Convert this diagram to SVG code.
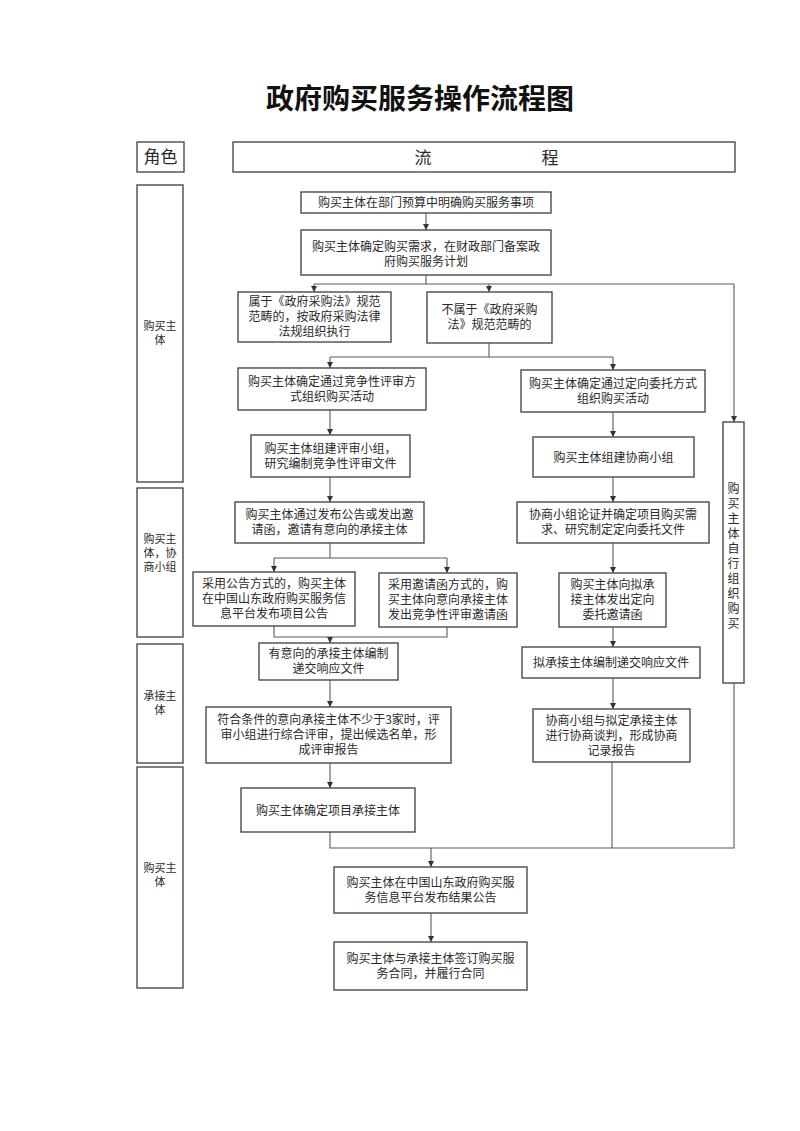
<svg xmlns="http://www.w3.org/2000/svg" width="800" height="1131" viewBox="0 0 800 1131">
<style>
text{font-family:"Noto Sans CJK SC","Noto Sans",sans-serif;fill:#2a2a2a;text-anchor:middle}
.t{font-size:12px}
.s{font-size:11px}
.box{fill:#fff;stroke:#4a4a4a;stroke-width:1.4}
.ln{fill:none;stroke:#5a5a5a;stroke-width:1.1}
.title{font-size:28px;font-weight:700;fill:#111}
.hd{font-size:17px}
</style>
<defs>
<marker id="arr" viewBox="0 0 8 8" refX="8" refY="4" markerWidth="6" markerHeight="6" markerUnits="userSpaceOnUse" orient="auto">
<path d="M0,0 L8,4 L0,8 z" fill="#333"/>
</marker>
</defs>
<rect width="800" height="1131" fill="#fff"/>
<text class="title" x="420" y="109">政府购买服务操作流程图</text>

<g id="header">
<rect class="box" x="137" y="142" width="47" height="30"/>
<text class="hd" x="160.5" y="163">角色</text>
<rect class="box" x="233" y="142" width="502" height="30"/>
<text class="hd" x="423" y="164">流</text>
<text class="hd" x="550" y="164">程</text>
</g>

<g id="roles">
<g id="role1"><rect class="box" x="137" y="185" width="46" height="297"/>
<text class="s" x="160" y="330">购买主</text><text class="s" x="160" y="344">体</text></g>
<g id="role2"><rect class="box" x="137" y="488" width="46" height="149"/>
<text class="s" x="160" y="543">购买主</text><text class="s" x="160" y="557">体，协</text><text class="s" x="160" y="571">商小组</text></g>
<g id="role3"><rect class="box" x="137" y="644" width="46" height="119"/>
<text class="s" x="160" y="700">承接主</text><text class="s" x="160" y="714">体</text></g>
<g id="role4"><rect class="box" x="137" y="767" width="46" height="221"/>
<text class="s" x="160" y="872">购买主</text><text class="s" x="160" y="886">体</text></g>
</g>

<g id="connectors">
<line class="ln" x1="426" y1="213" x2="426" y2="230" marker-end="url(#arr)"/>
<polyline class="ln" points="426,275 426,284"/>
<polyline class="ln" points="314,284 734,284"/>
<line class="ln" x1="314" y1="284" x2="314" y2="292" marker-end="url(#arr)"/>
<line class="ln" x1="489" y1="284" x2="489" y2="292" marker-end="url(#arr)"/>
<line class="ln" x1="734" y1="284" x2="734" y2="422" marker-end="url(#arr)"/>
<polyline class="ln" points="489,343 489,357"/>
<polyline class="ln" points="330,357 613,357"/>
<line class="ln" x1="330" y1="357" x2="330" y2="368" marker-end="url(#arr)"/>
<line class="ln" x1="613" y1="357" x2="613" y2="370" marker-end="url(#arr)"/>
<line class="ln" x1="330" y1="410" x2="330" y2="435" marker-end="url(#arr)"/>
<line class="ln" x1="330" y1="477" x2="330" y2="502" marker-end="url(#arr)"/>
<line class="ln" x1="613" y1="412" x2="613" y2="437" marker-end="url(#arr)"/>
<line class="ln" x1="613" y1="477" x2="613" y2="502" marker-end="url(#arr)"/>
<polyline class="ln" points="330,543 330,558"/>
<polyline class="ln" points="274,558 447,558"/>
<line class="ln" x1="274" y1="558" x2="274" y2="572" marker-end="url(#arr)"/>
<line class="ln" x1="447" y1="558" x2="447" y2="573" marker-end="url(#arr)"/>
<polyline class="ln" points="274,626 274,637 447,637 447,627"/>
<line class="ln" x1="330" y1="637" x2="330" y2="643" marker-end="url(#arr)"/>
<line class="ln" x1="613" y1="543" x2="613" y2="573" marker-end="url(#arr)"/>
<line class="ln" x1="613" y1="627" x2="613" y2="647" marker-end="url(#arr)"/>
<line class="ln" x1="613" y1="678" x2="613" y2="709" marker-end="url(#arr)"/>
<line class="ln" x1="330" y1="680" x2="330" y2="707" marker-end="url(#arr)"/>
<line class="ln" x1="330" y1="763" x2="330" y2="788" marker-end="url(#arr)"/>
<polyline class="ln" points="330,832 330,848 734,848 734,683"/>
<polyline class="ln" points="612,762 612,848"/>
<line class="ln" x1="431" y1="848" x2="431" y2="867" marker-end="url(#arr)"/>
<line class="ln" x1="431" y1="913" x2="431" y2="942" marker-end="url(#arr)"/>
</g>

<g id="n1"><rect class="box" x="301" y="192" width="250" height="21"/>
<text class="t" x="426" y="207">购买主体在部门预算中明确购买服务事项</text></g>
<g id="n2"><rect class="box" x="301" y="230" width="250" height="45"/>
<text class="t" x="426" y="250.5">购买主体确定购买需求，在财政部门备案政</text><text class="t" x="426" y="265.5">府购买服务计划</text></g>
<g id="n3a"><rect class="box" x="238" y="292" width="153" height="50"/>
<text class="t" x="314.5" y="306">属于《政府采购法》规范</text><text class="t" x="314.5" y="321">范畴的，按政府采购法律</text><text class="t" x="314.5" y="336">法规组织执行</text></g>
<g id="n3b"><rect class="box" x="427" y="292" width="125" height="51"/>
<text class="t" x="489.5" y="313.5">不属于《政府采购</text><text class="t" x="489.5" y="328.5">法》规范范畴的</text></g>
<g id="n4a"><rect class="box" x="238" y="368" width="188" height="42"/>
<text class="t" x="332" y="385.5">购买主体确定通过竞争性评审方</text><text class="t" x="332" y="400.5">式组织购买活动</text></g>
<g id="n4b"><rect class="box" x="521" y="370" width="184" height="42"/>
<text class="t" x="613" y="387.5">购买主体确定通过定向委托方式</text><text class="t" x="613" y="402.5">组织购买活动</text></g>
<g id="n5a"><rect class="box" x="251" y="435" width="159" height="42"/>
<text class="t" x="330.5" y="452.5">购买主体组建评审小组，</text><text class="t" x="330.5" y="467.5">研究编制竞争性评审文件</text></g>
<g id="n5b"><rect class="box" x="533" y="437" width="161" height="40"/>
<text class="t" x="613.5" y="461.5">购买主体组建协商小组</text></g>
<g id="n6a"><rect class="box" x="235" y="502" width="189" height="41"/>
<text class="t" x="329.5" y="519">购买主体通过发布公告或发出邀</text><text class="t" x="329.5" y="534">请函，邀请有意向的承接主体</text></g>
<g id="n6b"><rect class="box" x="517" y="502" width="192" height="41"/>
<text class="t" x="613" y="519">协商小组论证并确定项目购买需</text><text class="t" x="613" y="534">求、研究制定定向委托文件</text></g>
<g id="n7a"><rect class="box" x="193" y="572" width="162" height="54"/>
<text class="t" x="274" y="588">采用公告方式的，购买主体</text><text class="t" x="274" y="603">在中国山东政府购买服务信</text><text class="t" x="274" y="618">息平台发布项目公告</text></g>
<g id="n7b"><rect class="box" x="379" y="573" width="138" height="54"/>
<text class="t" x="448" y="589">采用邀请函方式的，购</text><text class="t" x="448" y="604">买主体向意向承接主体</text><text class="t" x="448" y="619">发出竞争性评审邀请函</text></g>
<g id="n7c"><rect class="box" x="559" y="573" width="107" height="54"/>
<text class="t" x="612.5" y="589">购买主体向拟承</text><text class="t" x="612.5" y="604">接主体发出定向</text><text class="t" x="612.5" y="619">委托邀请函</text></g>
<g id="n8a"><rect class="box" x="259" y="643" width="139" height="37"/>
<text class="t" x="328.5" y="658">有意向的承接主体编制</text><text class="t" x="328.5" y="673">递交响应文件</text></g>
<g id="n8b"><rect class="box" x="522" y="647" width="178" height="31"/>
<text class="t" x="611" y="667">拟承接主体编制递交响应文件</text></g>
<g id="n9a"><rect class="box" x="206" y="707" width="245" height="56"/>
<text class="t" x="328.5" y="724">符合条件的意向承接主体不少于3家时，评</text><text class="t" x="328.5" y="739">审小组进行综合评审，提出候选名单，形</text><text class="t" x="328.5" y="754">成评审报告</text></g>
<g id="n9b"><rect class="box" x="533" y="709" width="157" height="53"/>
<text class="t" x="611.5" y="725">协商小组与拟定承接主体</text><text class="t" x="611.5" y="740">进行协商谈判，形成协商</text><text class="t" x="611.5" y="755">记录报告</text></g>
<g id="n10"><rect class="box" x="241" y="788" width="174" height="44"/>
<text class="t" x="328" y="814.5">购买主体确定项目承接主体</text></g>
<g id="nself"><rect class="box" x="723" y="422" width="21" height="261"/>
<text class="t" x="733.5" y="493">购</text><text class="t" x="733.5" y="508">买</text><text class="t" x="733.5" y="523">主</text><text class="t" x="733.5" y="538">体</text><text class="t" x="733.5" y="553">自</text><text class="t" x="733.5" y="568">行</text><text class="t" x="733.5" y="583">组</text><text class="t" x="733.5" y="598">织</text><text class="t" x="733.5" y="613">购</text><text class="t" x="733.5" y="628">买</text>
</g>
<g id="n11"><rect class="box" x="334" y="867" width="193" height="46"/>
<text class="t" x="430.5" y="886.5">购买主体在中国山东政府购买服</text><text class="t" x="430.5" y="901.5">务信息平台发布结果公告</text></g>
<g id="n12"><rect class="box" x="334" y="942" width="193" height="48"/>
<text class="t" x="430.5" y="962.5">购买主体与承接主体签订购买服</text><text class="t" x="430.5" y="977.5">务合同，并履行合同</text></g>
</svg>
